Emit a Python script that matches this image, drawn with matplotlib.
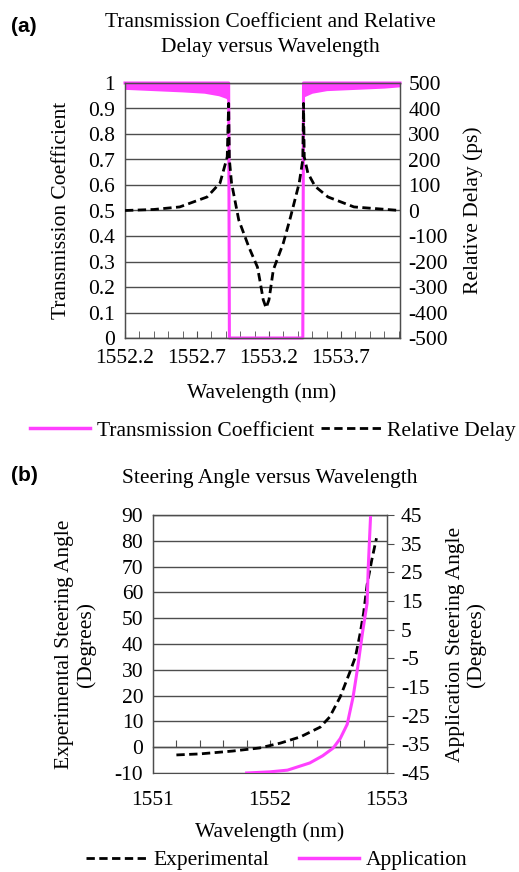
import matplotlib
matplotlib.use("Agg")
import matplotlib.pyplot as plt
from matplotlib.lines import Line2D
import numpy as np

# ---------------- data: panel (a) ----------------
trans_wl = [1552.20, 1552.40, 1552.60, 1552.75, 1552.85, 1552.90, 1552.92, 1552.925,
            1553.435, 1553.44, 1553.46, 1553.50, 1553.60, 1553.80, 1554.00, 1554.11]
trans_val = [1.0, 1.0, 1.0, 1.0, 1.0, 1.0, 1.0, 0.0,
             0.0, 1.0, 1.0, 1.0, 1.0, 1.0, 1.0, 1.0]
trans_low = [0.975, 0.97, 0.965, 0.96, 0.95, 0.94, 0.93, 0.0,
             0.0, 0.945, 0.95, 0.96, 0.97, 0.975, 0.98, 0.985]

delay_wl = [1552.20, 1552.40, 1552.58, 1552.77, 1552.86, 1552.91, 1552.92, 1552.925,
            1552.94, 1552.99, 1553.06, 1553.12, 1553.14, 1553.16, 1553.18, 1553.20,
            1553.21, 1553.23, 1553.30, 1553.35, 1553.41, 1553.435, 1553.44, 1553.445,
            1553.47, 1553.52, 1553.61, 1553.79, 1554.11]
delay_ps = [0, 4, 14, 53, 108, 210, 420, 200,
            108, -37, -143, -222, -284, -350, -382, -350,
            -312, -233, -127, -25, 108, 200, 420, 210,
            147, 95, 53, 14, 0]

a_left_ticks = [0, 0.1, 0.2, 0.3, 0.4, 0.5, 0.6, 0.7, 0.8, 0.9, 1]
a_left_labels = ["0", "0.1", "0.2", "0.3", "0.4", "0.5", "0.6", "0.7", "0.8", "0.9", "1"]
a_right_ticks = [-500, -400, -300, -200, -100, 0, 100, 200, 300, 400, 500]
a_x_labels = [1552.2, 1552.7, 1553.2, 1553.7]

# ---------------- data: panel (b) ----------------
exp_wl = [1551.20, 1551.40, 1551.68, 1551.91, 1552.09, 1552.26, 1552.43, 1552.51,
          1552.60, 1552.68, 1552.73, 1552.77, 1552.80, 1552.83, 1552.87, 1552.91]
exp_angle = [-3.0, -2.6, -1.5, -0.3, 1.6, 4.0, 7.8, 11.7,
             19.5, 28.8, 35.0, 44.0, 52.0, 63.0, 72.6, 81.0]

app_wl = [1551.80, 1552.00, 1552.15, 1552.34, 1552.45, 1552.54, 1552.60, 1552.66,
          1552.71, 1552.75, 1552.79, 1552.83, 1552.84, 1552.86]
app_angle = [-45.0, -44.6, -44.0, -41.5, -39.0, -36.3, -33.0, -28.0,
             -18.5, -8.0, 3.8, 14.3, 27.0, 45.0]

b_left_ticks = [-10, 0, 10, 20, 30, 40, 50, 60, 70, 80, 90]
b_right_ticks = [-45, -35, -25, -15, -5, 5, 15, 25, 35, 45]
b_x_labels = [1551, 1552, 1553]

# ---------------- style ----------------
PINK = "#ff40ff"
GRID = "#4d4d4d"
SERIF = "Liberation Serif"
FS = 15.5
W, H = 519, 872

plt.rcParams["font.family"] = SERIF
plt.rcParams["axes.unicode_minus"] = False
fig = plt.figure(figsize=(W / 100, H / 100), dpi=100)


def fx(px):
    return px / W


def fy(py):
    return 1 - py / H


def style_axes(ax):
    for s in ax.spines.values():
        s.set_color(GRID)
        s.set_linewidth(1.0)
    ax.grid(axis="y", color=GRID, linewidth=1.0)
    ax.set_axisbelow(True)


# ================= panel (a) =================
ax = fig.add_axes([fx(125), fy(338), fx(400) - fx(125), fy(83) - fy(338)])
ax.fill_between(trans_wl, trans_low, trans_val, color=PINK, linewidth=0, zorder=2)
ax.plot(trans_wl, trans_val, color=PINK, linewidth=2.2, zorder=2, clip_on=False)
ax.set_xlim(1552.2, 1554.11)
ax.set_ylim(0, 1)
ax.set_yticks(a_left_ticks)
ax.set_yticklabels(a_left_labels)
ax.set_xticks(np.arange(1552.2, 1554.11, 0.1), minor=True)
ax.set_xticks(a_x_labels)
ax.set_xticklabels([f"{v:.1f}" for v in a_x_labels])
ax.tick_params(axis="y", length=0, pad=7, labelsize=FS)
ax.tick_params(axis="x", which="both", direction="in", length=5, color=GRID,
               pad=8, labelsize=FS)
style_axes(ax)

ax2 = ax.twinx()
ax2.plot(delay_wl, delay_ps, color="black", linewidth=2.0,
         linestyle=(0, (3, 1.6)), zorder=3)
ax2.set_ylim(-500, 500)
ax2.set_yticks(a_right_ticks)
ax2.tick_params(axis="y", length=0, pad=6, labelsize=FS)
for s in ax2.spines.values():
    s.set_color(GRID)

fig.text(fx(270), fy(27), "Transmission Coefficient and Relative", ha="center",
         va="baseline", fontsize=FS)
fig.text(fx(270), fy(52), "Delay versus Wavelength", ha="center",
         va="baseline", fontsize=FS)
fig.text(fx(11), fy(32), "(a)", ha="left", va="baseline", fontsize=15,
         fontweight="bold", family="Liberation Sans")
fig.text(fx(62), fy(210), "Transmission Coefficient", rotation=90, ha="center",
         va="center", fontsize=FS)
fig.text(fx(473), fy(210), "Relative Delay (ps)", rotation=90, ha="center",
         va="center", fontsize=FS)
fig.text(fx(262), fy(398), "Wavelength (nm)", ha="center", va="baseline",
         fontsize=FS)

h_a = [Line2D([], [], color=PINK, linewidth=2.5),
       Line2D([], [], color="black", linewidth=2.0, linestyle=(0, (3, 1.6)))]
fig.legend(h_a, ["Transmission Coefficient", "Relative Delay"], loc="center",
           bbox_to_anchor=(fx(273), fy(431)), ncol=2, frameon=False,
           fontsize=FS, handlelength=2.8, handletextpad=0.3,
           columnspacing=0.3, borderpad=0)

# ================= panel (b) =================
bx = fig.add_axes([fx(153), fy(773), fx(387) - fx(153), fy(515) - fy(773)])
bx.plot(exp_wl, exp_angle, color="black", linewidth=2.0,
        linestyle=(0, (3, 1.6)), zorder=3)
bx.set_xlim(1551, 1553)
bx.set_ylim(-10, 90)
bx.set_yticks(b_left_ticks)
bx.spines["bottom"].set_position(("data", 0))
bx.set_xticks(np.arange(1551.2, 1552.85, 0.2))
bx.tick_params(axis="x", direction="in", length=5, color=GRID,
               labelbottom=False)
bx.tick_params(axis="y", length=0, pad=7, labelsize=FS)
style_axes(bx)

sec = bx.secondary_xaxis(0.0)
sec.set_xticks(b_x_labels)
sec.set_xticklabels([str(v) for v in b_x_labels])
sec.tick_params(length=0, pad=13, labelsize=FS)
sec.spines["bottom"].set_color(GRID)

bx2 = bx.twinx()
bx2.plot(app_wl, app_angle, color=PINK, linewidth=2.2, zorder=2)
bx2.set_ylim(-45, 45)
bx2.set_yticks(b_right_ticks)
bx2.tick_params(axis="y", direction="out", length=5, color=GRID, pad=5,
                labelsize=FS)
for s in bx2.spines.values():
    s.set_color(GRID)
bx2.spines["bottom"].set_visible(False)

fig.text(fx(270), fy(483), "Steering Angle versus Wavelength", ha="center",
         va="baseline", fontsize=FS)
fig.text(fx(11), fy(481), "(b)", ha="left", va="baseline", fontsize=15,
         fontweight="bold", family="Liberation Sans")
fig.text(fx(75.5), fy(644), "Experimental Steering Angle\n(Degrees)", rotation=90,
         ha="center", va="center", multialignment="center", fontsize=FS,
         linespacing=1.1)
fig.text(fx(466), fy(644), "Application Steering Angle\n(Degrees)", rotation=90,
         ha="center", va="center", multialignment="center", fontsize=FS,
         linespacing=1.1)
fig.text(fx(270), fy(837), "Wavelength (nm)", ha="center", va="baseline",
         fontsize=FS)

h_b = [Line2D([], [], color="black", linewidth=2.0, linestyle=(0, (3, 1.6))),
       Line2D([], [], color=PINK, linewidth=2.5)]
fig.legend(h_b, ["Experimental", "Application"], loc="center",
           bbox_to_anchor=(fx(277), fy(860)), ncol=2, frameon=False,
           fontsize=FS, handlelength=2.8, handletextpad=0.3,
           columnspacing=1.4, borderpad=0)

fig.savefig("out.png", dpi=100)
